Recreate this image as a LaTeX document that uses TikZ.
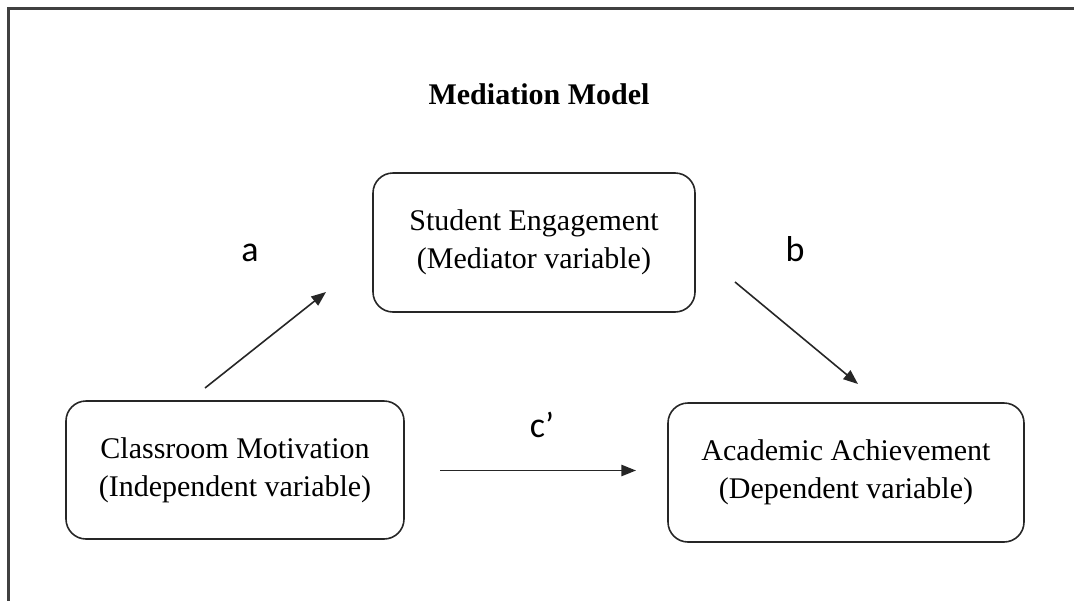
\documentclass[tikz,border=0pt]{standalone}
\usepackage{fontspec}
\setmainfont{Liberation Serif}
\newfontfamily\labfont{Carlito}
\usetikzlibrary{arrows.meta}
\begin{document}
\begin{tikzpicture}[x=0.75pt,y=-0.75pt,
  varbox/.style={draw=black!85, line width=1.2pt, rounded corners=15pt, align=center,
    font=\fontsize{22.5pt}{28.5pt}\selectfont, inner sep=0pt},
  path/.style={draw=black!85, line width=1.2pt, -{Triangle[length=11pt,width=8.5pt]}},
  lbl/.style={font=\labfont\fontsize{27pt}{32pt}\selectfont, anchor=base, inner sep=0pt},
  frame/.style={draw=black!75, line width=1.6pt}]
\useasboundingbox (0,0) rectangle (1074,600);
\clip (0,0) rectangle (1074,600);
\draw[frame] (1090,8.5) -- (8.5,8.5) -- (8.5,620);
\node[font=\bfseries\fontsize{22.5pt}{28.5pt}\selectfont, anchor=base, inner sep=0pt] (title) at (539,104) {Mediation Model};
\node[varbox, minimum width=322*0.75pt, minimum height=139*0.75pt] (SE) at (534,242.5) {Student Engagement\\(Mediator variable)};
\node[varbox, minimum width=338*0.75pt, minimum height=138*0.75pt] (CM) at (235,470) {Classroom Motivation\\(Independent variable)};
\node[varbox, minimum width=356*0.75pt, minimum height=139*0.75pt] (AA) at (846,472.5) {Academic Achievement\\(Dependent variable)};
\coordinate (aS) at (205,388);
\coordinate (aE) at (326,292);
\coordinate (bS) at (735,282);
\coordinate (bE) at (858,384);
\coordinate (cS) at (440,470.5);
\coordinate (cE) at (636,470.5);
\draw[path] (aS) -- (aE);
\draw[path] (bS) -- (bE);
\draw[path] (cS) -- (cE);
\node[lbl] (la) at (250,261) {a};
\node[lbl] (lb) at (795,261) {b};
\node[lbl] (lc) at (542,437) {c’};
\end{tikzpicture}
\end{document}
